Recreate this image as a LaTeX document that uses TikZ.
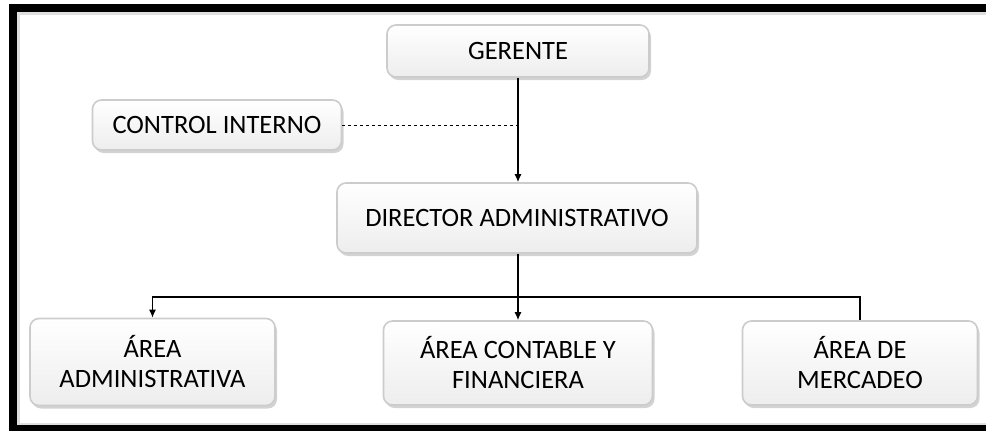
\documentclass[tikz,border=0pt]{standalone}
\usepackage{fontspec}
\setmainfont{Carlito}
\usepackage{tikz}
\usetikzlibrary{arrows.meta, shadows}

\tikzset{
    orgbox/.style={rounded corners=9pt, draw=gray!40, line width=1.6pt,
        top color=white, bottom color=gray!14, align=center,
        inner sep=0pt, font=\fontsize{26.5}{30}\selectfont,
        drop shadow={shadow xshift=2pt, shadow yshift=-3pt, opacity=0.35, fill=gray}},
    link/.style={line width=1.4pt},
    tip/.style={-{Latex[length=8pt, width=7pt]}}
}

\begin{document}
\begin{tikzpicture}[x=1pt, y=-1pt]
    \useasboundingbox (0,0) rectangle (986,431);
    % marco
    \draw[gray!25, line width=3pt] (1000,13.5) -- (18.5,13.5) -- (18.5,424.5) -- (1000,424.5);
    \draw[line width=8pt] (1000,8) -- (13,8) -- (13,428.5) -- (1000,428.5);

    \node[orgbox, minimum width=262pt, minimum height=52pt] (ger) at (518,51) {GERENTE};
    \node[orgbox, minimum width=249pt, minimum height=50pt] (ctrl) at (217,125) {CONTROL INTERNO};
    \node[orgbox, minimum width=360pt, minimum height=70pt] (dir) at (517,218) {DIRECTOR ADMINISTRATIVO};
    \node[orgbox, minimum width=245pt, minimum height=87pt] (adm) at (152.5,362) {ÁREA\\ADMINISTRATIVA};
    \node[orgbox, minimum width=269pt, minimum height=84pt] (cont) at (518,363) {ÁREA CONTABLE Y\\FINANCIERA};
    \node[orgbox, minimum width=235pt, minimum height=84pt] (merc) at (860,363) {ÁREA DE\\MERCADEO};

    \coordinate (bus) at (518,297);

    \draw[link, tip] (ger.south) -- (ger.south |- dir.north);
    \draw[link, dashed, line width=0.9pt] (ctrl.east) -- (ctrl.east -| ger.south);
    \draw[link] (dir.south -| bus) -- (bus);
    \draw[link, tip] (bus) -| (adm.north);
    \draw[link, tip] (bus) -- (cont.north);
    \draw[link] (bus) -| (merc.north);
\end{tikzpicture}
\end{document}
